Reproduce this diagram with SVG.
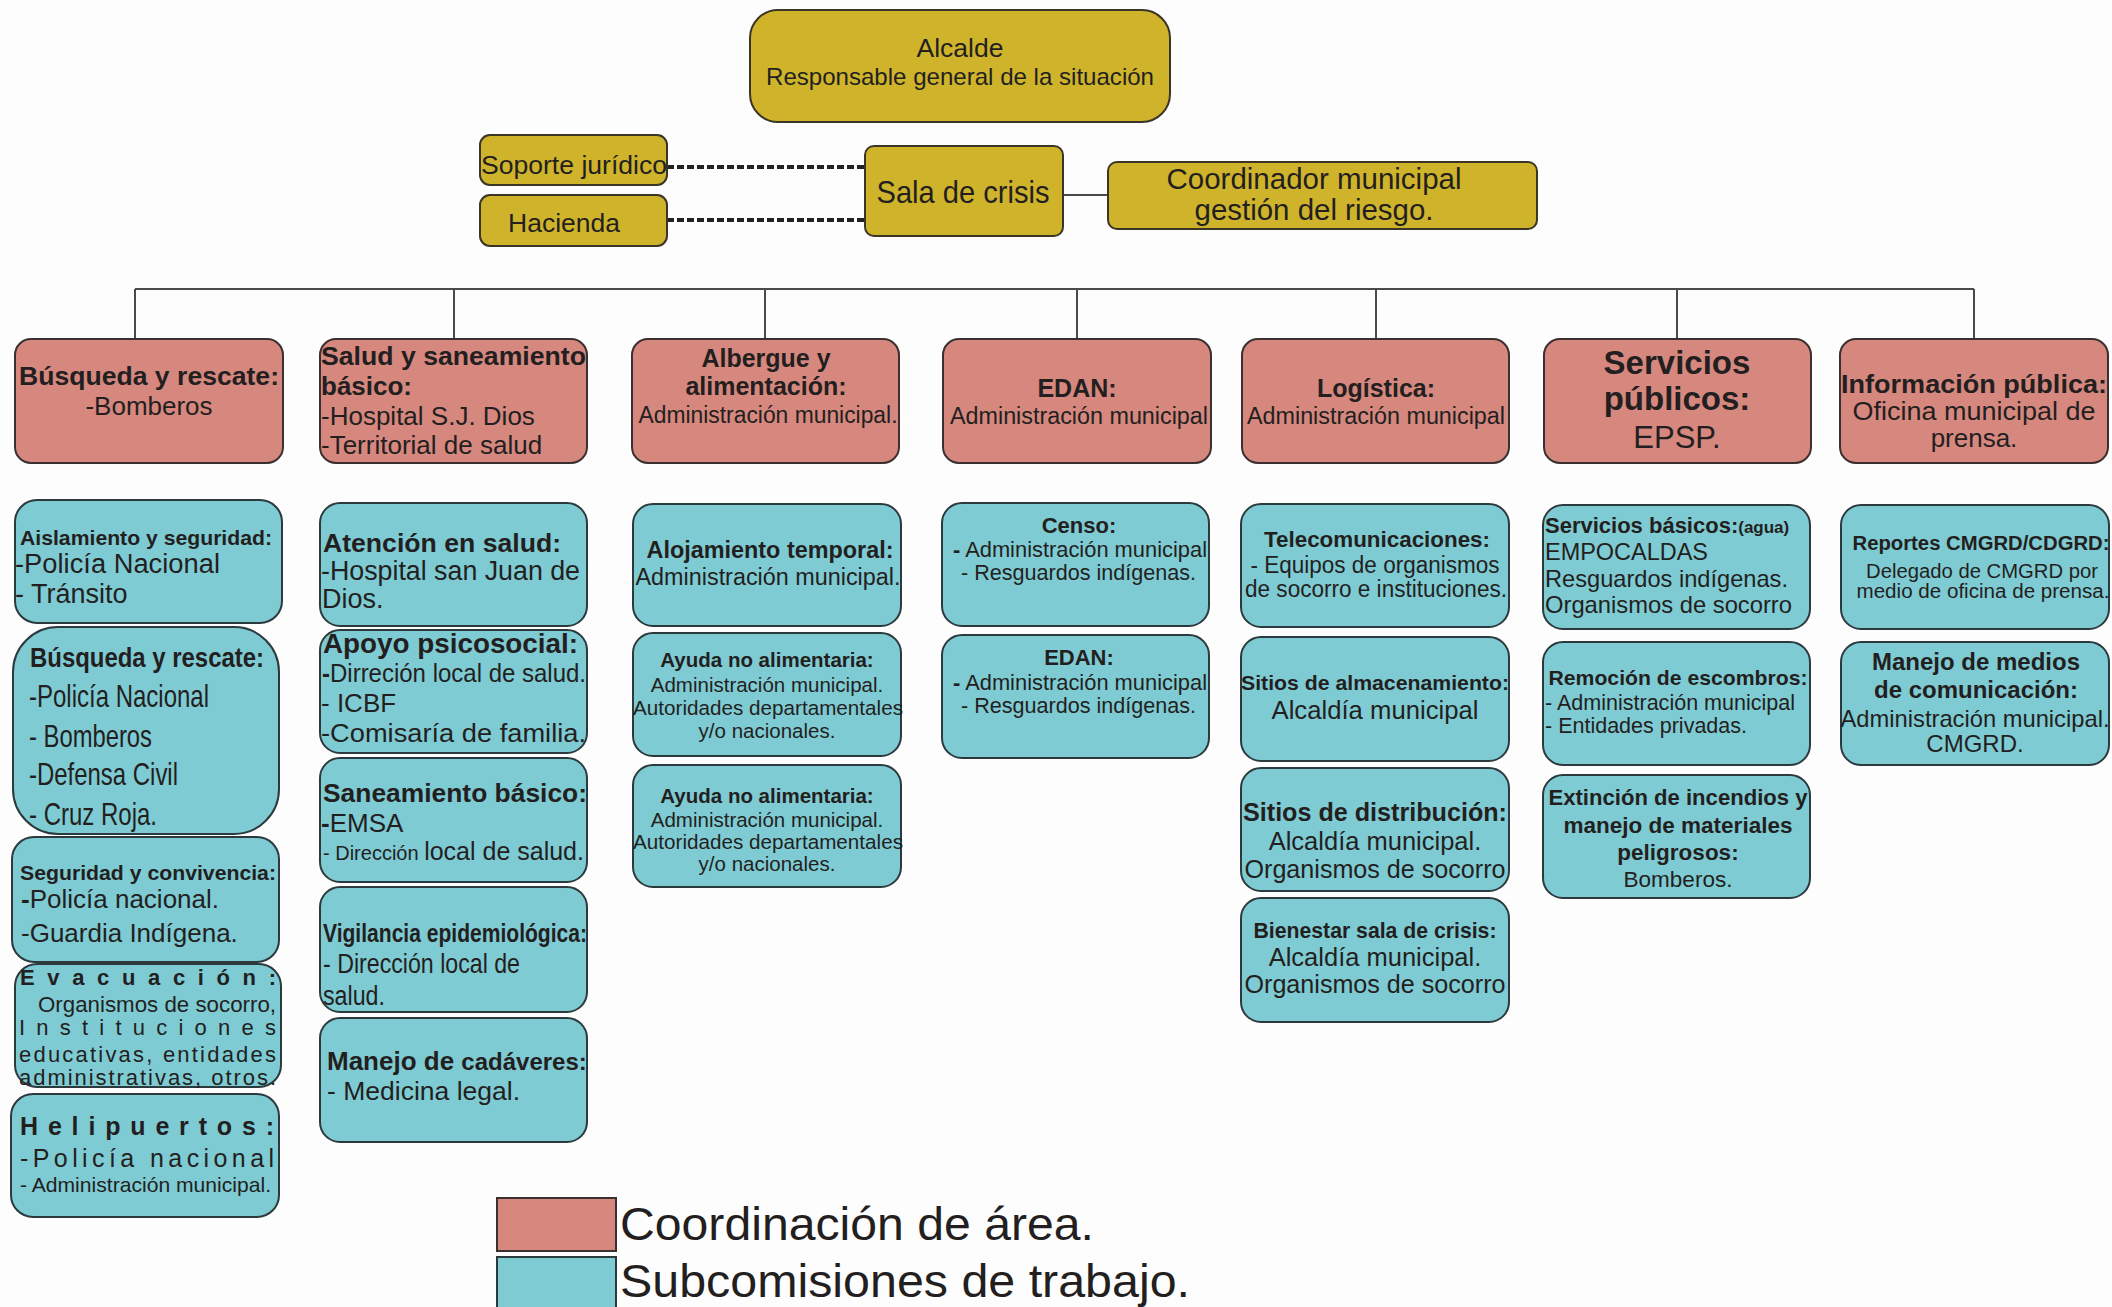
<svg xmlns="http://www.w3.org/2000/svg" width="2112" height="1307" viewBox="0 0 2112 1307">
<style>
text{font-family:"Liberation Sans",Arial,sans-serif;fill:#231f20}
.b{font-weight:bold}
.m{text-anchor:middle}
.gold{fill:#cfb42b;stroke:#3a3526;stroke-width:2}
.pink{fill:#d6887f;stroke:#3b3030;stroke-width:2}
.cyan{fill:#7ecbd4;stroke:#2c3a3e;stroke-width:2}
.ln{stroke:#4a4a4a;stroke-width:2;fill:none}
.dash{stroke:#222;stroke-width:4;stroke-dasharray:7 3;fill:none}
</style>
<rect x="0" y="0" width="2112" height="1307" fill="#fdfdfd"/>

<g id="connectors">
<line class="dash" x1="667" y1="167" x2="865" y2="167"/>
<line class="dash" x1="667" y1="220" x2="865" y2="220"/>
<line class="ln" x1="1063" y1="195" x2="1108" y2="195"/>
<line class="ln" x1="135" y1="289" x2="1974" y2="289"/>
<line class="ln" x1="135" y1="289" x2="135" y2="339"/>
<line class="ln" x1="454" y1="289" x2="454" y2="339"/>
<line class="ln" x1="765" y1="289" x2="765" y2="339"/>
<line class="ln" x1="1077" y1="289" x2="1077" y2="339"/>
<line class="ln" x1="1376" y1="289" x2="1376" y2="339"/>
<line class="ln" x1="1677" y1="289" x2="1677" y2="339"/>
<line class="ln" x1="1974" y1="289" x2="1974" y2="339"/>
</g>

<g id="alcalde">
<rect class="gold" x="750" y="10" width="420" height="112" rx="28"/>
<text class="m" x="960" y="57" font-size="25" textLength="87" lengthAdjust="spacingAndGlyphs">Alcalde</text>
<text class="m" x="960" y="85" font-size="24" textLength="388" lengthAdjust="spacingAndGlyphs">Responsable general de la situación</text>
</g>
<g id="soporte">
<rect class="gold" x="480" y="135" width="187" height="50" rx="10"/>
<text x="481" y="174" font-size="26" textLength="186" lengthAdjust="spacingAndGlyphs">Soporte jurídico</text>
</g>
<g id="hacienda">
<rect class="gold" x="480" y="195" width="187" height="51" rx="10"/>
<text x="508" y="232" font-size="26" textLength="112" lengthAdjust="spacingAndGlyphs">Hacienda</text>
</g>
<g id="sala">
<rect class="gold" x="865" y="146" width="198" height="90" rx="9"/>
<text class="m" x="963" y="203" font-size="32" textLength="173" lengthAdjust="spacingAndGlyphs">Sala de crisis</text>
</g>
<g id="coordinador">
<rect class="gold" x="1108" y="162" width="429" height="67" rx="9"/>
<text class="m" x="1314" y="189" font-size="29" textLength="295" lengthAdjust="spacingAndGlyphs">Coordinador municipal</text>
<text class="m" x="1314" y="220" font-size="29" textLength="239" lengthAdjust="spacingAndGlyphs">gestión del riesgo.</text>
</g>

<g id="p-busqueda">
<rect class="pink" x="15" y="339" width="268" height="124" rx="16"/>
<text class="b m" x="149" y="385" font-size="25" textLength="260" lengthAdjust="spacingAndGlyphs">Búsqueda y rescate:</text>
<text class="m" x="149" y="415" font-size="26">-Bomberos</text>
</g>
<g id="p-salud">
<rect class="pink" x="320" y="339" width="267" height="124" rx="16"/>
<text class="b" x="321" y="365" font-size="26" textLength="265" lengthAdjust="spacingAndGlyphs">Salud y saneamiento</text>
<text class="b" x="321" y="395" font-size="26">básico:</text>
<text x="321" y="425" font-size="26">-Hospital S.J. Dios</text>
<text x="321" y="454" font-size="26">-Territorial de salud</text>
</g>
<g id="p-albergue">
<rect class="pink" x="632" y="339" width="267" height="124" rx="16"/>
<text class="b m" x="766" y="367" font-size="25">Albergue y</text>
<text class="b m" x="766" y="395" font-size="25">alimentación:</text>
<text class="m" x="768" y="423" font-size="23" textLength="259" lengthAdjust="spacingAndGlyphs">Administración municipal.</text>
</g>
<g id="p-edan">
<rect class="pink" x="943" y="339" width="268" height="124" rx="16"/>
<text class="b m" x="1077" y="397" font-size="25">EDAN:</text>
<text class="m" x="1079" y="424" font-size="23" textLength="258" lengthAdjust="spacingAndGlyphs">Administración municipal</text>
</g>
<g id="p-logistica">
<rect class="pink" x="1242" y="339" width="267" height="124" rx="16"/>
<text class="b m" x="1376" y="397" font-size="25">Logística:</text>
<text class="m" x="1376" y="424" font-size="23" textLength="258" lengthAdjust="spacingAndGlyphs">Administración municipal</text>
</g>
<g id="p-servicios">
<rect class="pink" x="1544" y="339" width="267" height="124" rx="16"/>
<text class="b m" x="1677" y="374" font-size="33">Servicios</text>
<text class="b m" x="1677" y="410" font-size="33">públicos:</text>
<text class="m" x="1677" y="448" font-size="31">EPSP.</text>
</g>
<g id="p-informacion">
<rect class="pink" x="1840" y="339" width="268" height="124" rx="16"/>
<text class="b m" x="1974" y="393" font-size="26" textLength="266" lengthAdjust="spacingAndGlyphs">Información pública:</text>
<text class="m" x="1974" y="420" font-size="26" textLength="243" lengthAdjust="spacingAndGlyphs">Oficina municipal de</text>
<text class="m" x="1974" y="447" font-size="26">prensa.</text>
</g>

<g id="c-aislamiento">
<rect class="cyan" x="15" y="500" width="267" height="123" rx="22"/>
<text class="b" x="20" y="545" font-size="21" textLength="252" lengthAdjust="spacingAndGlyphs">Aislamiento y seguridad:</text>
<text x="15" y="573" font-size="27" textLength="205" lengthAdjust="spacingAndGlyphs">-Policía Nacional</text>
<text x="15" y="603" font-size="27">- Tránsito</text>
</g>
<g id="c-busqueda">
<rect class="cyan" x="13" y="627" width="266" height="207" rx="45"/>
<text class="b" x="30" y="667" font-size="28" textLength="234" lengthAdjust="spacingAndGlyphs">Búsqueda y rescate:</text>
<text x="29" y="707" font-size="32" textLength="180" lengthAdjust="spacingAndGlyphs">-Policía Nacional</text>
<text x="29" y="747" font-size="32" textLength="123" lengthAdjust="spacingAndGlyphs">- Bomberos</text>
<text x="29" y="785" font-size="32" textLength="149" lengthAdjust="spacingAndGlyphs">-Defensa Civil</text>
<text x="29" y="825" font-size="32" textLength="128" lengthAdjust="spacingAndGlyphs">- Cruz Roja.</text>
</g>
<g id="c-seguridad">
<rect class="cyan" x="12" y="837" width="267" height="125" rx="22"/>
<text class="b" x="20" y="880" font-size="21" textLength="256" lengthAdjust="spacingAndGlyphs">Seguridad y convivencia:</text>
<text x="21" y="908" font-size="26"><tspan class="b">-</tspan>Policía nacional.</text>
<text x="21" y="942" font-size="26">-Guardia Indígena.</text>
</g>
<g id="c-evacuacion">
<rect class="cyan" x="15" y="964" width="266" height="123" rx="22"/>
<text class="b" x="20" y="985" font-size="22" textLength="256" lengthAdjust="spacing">Evacuación:</text>
<text x="38" y="1012" font-size="22" textLength="238" lengthAdjust="spacingAndGlyphs">Organismos de socorro,</text>
<text x="19" y="1035" font-size="22" textLength="257" lengthAdjust="spacing">Instituciones</text>
<text x="19" y="1062" font-size="22" textLength="257" lengthAdjust="spacing">educativas, entidades</text>
<text x="19" y="1085" font-size="22" textLength="257" lengthAdjust="spacing">administrativas, otros.</text>
</g>
<g id="c-helipuertos">
<rect class="cyan" x="11" y="1094" width="268" height="123" rx="22"/>
<text class="b" x="20" y="1135" font-size="25" textLength="254" lengthAdjust="spacing">Helipuertos:</text>
<text x="20" y="1167" font-size="25" textLength="254" lengthAdjust="spacing">-Policía nacional</text>
<text x="20" y="1192" font-size="21" textLength="251" lengthAdjust="spacingAndGlyphs">- Administración municipal.</text>
</g>

<g id="c-atencion">
<rect class="cyan" x="320" y="503" width="267" height="123" rx="20"/>
<text class="b" x="323" y="552" font-size="26" textLength="238" lengthAdjust="spacingAndGlyphs">Atención en salud:</text>
<text x="321" y="580" font-size="27" textLength="259" lengthAdjust="spacingAndGlyphs">-Hospital san Juan de</text>
<text x="322" y="608" font-size="27"> Dios.</text>
</g>
<g id="c-apoyo">
<rect class="cyan" x="320" y="630" width="267" height="123" rx="20"/>
<text class="b" x="323" y="653" font-size="27" textLength="255" lengthAdjust="spacingAndGlyphs">Apoyo psicosocial:</text>
<text x="322" y="682" font-size="25" textLength="264" lengthAdjust="spacingAndGlyphs"><tspan class="b">-</tspan>Dirreción local de salud.</text>
<text x="321" y="712" font-size="26">- ICBF</text>
<text x="321" y="742" font-size="26" textLength="265" lengthAdjust="spacingAndGlyphs">-Comisaría de familia.</text>
</g>
<g id="c-saneamiento">
<rect class="cyan" x="320" y="758" width="267" height="124" rx="20"/>
<text class="b" x="323" y="802" font-size="26" textLength="264" lengthAdjust="spacingAndGlyphs">Saneamiento básico:</text>
<text x="321" y="832" font-size="26"><tspan class="b">-</tspan>EMSA</text>
<text x="323" y="860"><tspan font-size="20">- Dirección </tspan><tspan font-size="25">local de salud.</tspan></text>
</g>
<g id="c-vigilancia">
<rect class="cyan" x="320" y="887" width="267" height="125" rx="20"/>
<text class="b" x="323" y="942" font-size="25" textLength="264" lengthAdjust="spacingAndGlyphs">Vigilancia epidemiológica:</text>
<text x="323" y="973" font-size="27" textLength="197" lengthAdjust="spacingAndGlyphs">- Dirección local de</text>
<text x="323" y="1005" font-size="27" textLength="62" lengthAdjust="spacingAndGlyphs">salud.</text>
</g>
<g id="c-cadaveres">
<rect class="cyan" x="320" y="1018" width="267" height="124" rx="20"/>
<text class="b" x="327" y="1070"><tspan font-size="26">Manejo de </tspan><tspan font-size="24">cadáveres:</tspan></text>
<text x="327" y="1100" font-size="26" textLength="193" lengthAdjust="spacingAndGlyphs">- Medicina legal.</text>
</g>

<g id="c-alojamiento">
<rect class="cyan" x="633" y="504" width="268" height="122" rx="20"/>
<text class="b m" x="770" y="558" font-size="23" textLength="247" lengthAdjust="spacingAndGlyphs">Alojamiento temporal:</text>
<text class="m" x="768" y="585" font-size="23.5" textLength="265" lengthAdjust="spacingAndGlyphs">Administración municipal.</text>
</g>
<g id="c-ayuda1">
<rect class="cyan" x="633" y="633" width="268" height="123" rx="20"/>
<text class="b m" x="767" y="667" font-size="20.5">Ayuda no alimentaria:</text>
<text class="m" x="767" y="692" font-size="20.5">Administración municipal.</text>
<text class="m" x="768" y="715" font-size="20.5" textLength="270" lengthAdjust="spacingAndGlyphs">Autoridades departamentales</text>
<text class="m" x="767" y="738" font-size="20.5">y/o nacionales.</text>
</g>
<g id="c-ayuda2">
<rect class="cyan" x="633" y="765" width="268" height="122" rx="20"/>
<text class="b m" x="767" y="803" font-size="20.5">Ayuda no alimentaria:</text>
<text class="m" x="767" y="827" font-size="20.5">Administración municipal.</text>
<text class="m" x="768" y="849" font-size="20.5" textLength="270" lengthAdjust="spacingAndGlyphs">Autoridades departamentales</text>
<text class="m" x="767" y="871" font-size="20.5">y/o nacionales.</text>
</g>

<g id="c-censo">
<rect class="cyan" x="942" y="503" width="267" height="123" rx="20"/>
<text class="b m" x="1079" y="533" font-size="22">Censo:</text>
<text x="953" y="557" font-size="22" textLength="254" lengthAdjust="spacingAndGlyphs"><tspan class="b">-</tspan> Administración municipal</text>
<text x="961" y="580" font-size="22" textLength="235" lengthAdjust="spacingAndGlyphs">- Resguardos indígenas.</text>
</g>
<g id="c-edan">
<rect class="cyan" x="942" y="635" width="267" height="123" rx="20"/>
<text class="b m" x="1079" y="665" font-size="22">EDAN:</text>
<text x="953" y="690" font-size="22" textLength="254" lengthAdjust="spacingAndGlyphs"><tspan class="b">-</tspan> Administración municipal</text>
<text x="961" y="713" font-size="22" textLength="235" lengthAdjust="spacingAndGlyphs">- Resguardos indígenas.</text>
</g>

<g id="c-telecom">
<rect class="cyan" x="1241" y="504" width="268" height="123" rx="20"/>
<text class="b m" x="1377" y="547" font-size="22" textLength="226" lengthAdjust="spacingAndGlyphs">Telecomunicaciones:</text>
<text class="m" x="1375" y="573" font-size="23" textLength="249" lengthAdjust="spacingAndGlyphs">- Equipos de organismos</text>
<text class="m" x="1376" y="597" font-size="23" textLength="262" lengthAdjust="spacingAndGlyphs">de socorro e instituciones.</text>
</g>
<g id="c-almacenamiento">
<rect class="cyan" x="1241" y="637" width="268" height="124" rx="20"/>
<text class="b m" x="1375" y="690" font-size="21" textLength="268" lengthAdjust="spacingAndGlyphs">Sitios de almacenamiento:</text>
<text class="m" x="1375" y="719" font-size="26" textLength="207" lengthAdjust="spacingAndGlyphs">Alcaldía municipal</text>
</g>
<g id="c-distribucion">
<rect class="cyan" x="1241" y="768" width="268" height="123" rx="20"/>
<text class="b m" x="1375" y="821" font-size="25" textLength="264" lengthAdjust="spacingAndGlyphs">Sitios de distribución:</text>
<text class="m" x="1375" y="850" font-size="25.5">Alcaldía municipal.</text>
<text class="m" x="1375" y="878" font-size="25" textLength="261" lengthAdjust="spacingAndGlyphs">Organismos de socorro</text>
</g>
<g id="c-bienestar">
<rect class="cyan" x="1241" y="898" width="268" height="124" rx="20"/>
<text class="b m" x="1375" y="938" font-size="21.5" textLength="243" lengthAdjust="spacingAndGlyphs">Bienestar sala de crisis:</text>
<text class="m" x="1375" y="966" font-size="25.5">Alcaldía municipal.</text>
<text class="m" x="1375" y="993" font-size="25" textLength="261" lengthAdjust="spacingAndGlyphs">Organismos de socorro</text>
</g>

<g id="c-basicos">
<rect class="cyan" x="1543" y="505" width="267" height="124" rx="20"/>
<text class="b" x="1545" y="533"><tspan font-size="22">Servicios básicos:</tspan><tspan font-size="17">(agua)</tspan></text>
<text x="1545" y="560" font-size="24" textLength="163" lengthAdjust="spacingAndGlyphs">EMPOCALDAS</text>
<text x="1545" y="587" font-size="24" textLength="243" lengthAdjust="spacingAndGlyphs">Resguardos indígenas.</text>
<text x="1545" y="613" font-size="24" textLength="247" lengthAdjust="spacingAndGlyphs">Organismos de socorro</text>
</g>
<g id="c-remocion">
<rect class="cyan" x="1543" y="642" width="267" height="123" rx="20"/>
<text class="b m" x="1678" y="685" font-size="21" textLength="259" lengthAdjust="spacingAndGlyphs">Remoción de escombros:</text>
<text x="1545" y="710" font-size="21.5" textLength="250" lengthAdjust="spacingAndGlyphs">- Administración municipal</text>
<text x="1545" y="733" font-size="21.5">- Entidades privadas.</text>
</g>
<g id="c-extincion">
<rect class="cyan" x="1543" y="775" width="267" height="123" rx="20"/>
<text class="b m" x="1678" y="805" font-size="22.5" textLength="259" lengthAdjust="spacingAndGlyphs">Extinción de incendios y</text>
<text class="b m" x="1678" y="833" font-size="22.5">manejo de materiales</text>
<text class="b m" x="1678" y="860" font-size="22.5">peligrosos:</text>
<text class="m" x="1678" y="887" font-size="22.5">Bomberos.</text>
</g>

<g id="c-reportes">
<rect class="cyan" x="1841" y="505" width="268" height="124" rx="20"/>
<text class="b m" x="1981" y="550" font-size="20" textLength="257" lengthAdjust="spacingAndGlyphs">Reportes CMGRD/CDGRD:</text>
<text class="m" x="1982" y="578" font-size="20" textLength="232" lengthAdjust="spacingAndGlyphs">Delegado de CMGRD por</text>
<text class="m" x="1983" y="598" font-size="20" textLength="253" lengthAdjust="spacingAndGlyphs">medio de oficina de prensa.</text>
</g>
<g id="c-medios">
<rect class="cyan" x="1841" y="642" width="268" height="123" rx="20"/>
<text class="b m" x="1976" y="670" font-size="24">Manejo de medios</text>
<text class="b m" x="1976" y="698" font-size="24">de comunicación:</text>
<text class="m" x="1975" y="727" font-size="24" textLength="269" lengthAdjust="spacingAndGlyphs">Administración municipal.</text>
<text class="m" x="1975" y="752" font-size="24">CMGRD.</text>
</g>

<g id="legend">
<rect class="pink" x="497" y="1198" width="119" height="53"/>
<rect class="cyan" x="497" y="1257" width="119" height="56"/>
<text x="620" y="1240" font-size="47" textLength="474" lengthAdjust="spacingAndGlyphs">Coordinación de área.</text>
<text x="620" y="1297" font-size="47" textLength="570" lengthAdjust="spacingAndGlyphs">Subcomisiones de trabajo.</text>
</g>
</svg>
